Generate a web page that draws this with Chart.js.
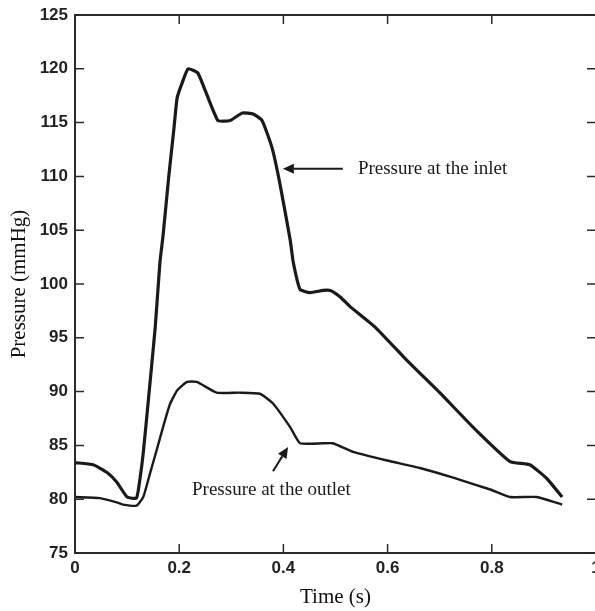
<!DOCTYPE html>
<html>
<head>
<meta charset="utf-8">
<script src="https://cdn.jsdelivr.net/npm/chart.js@4.4.1/dist/chart.umd.min.js"></script>
<style>
  html, body { margin: 0; padding: 0; background: #fff; overflow: hidden; }
  .chart-container { width: 600px; height: 611px; position: relative; }
</style>
</head>
<body>
<div class="chart-container">
  <canvas id="pressureChart"></canvas>
</div>
<script>
// data
const inletTime = [0, 0.035, 0.061, 0.08, 0.10, 0.118, 0.125, 0.131, 0.141, 0.154, 0.163, 0.169, 0.18, 0.19, 0.196, 0.205, 0.217, 0.236, 0.274, 0.298, 0.321, 0.342, 0.359, 0.378, 0.393, 0.413, 0.419, 0.432, 0.451, 0.476, 0.49, 0.509, 0.528, 0.576, 0.637, 0.70, 0.772, 0.835, 0.873, 0.906, 0.935];
const inletPressure = [83.4, 83.2, 82.5, 81.6, 80.2, 80.1, 82.0, 84.3, 89.3, 96.0, 102.0, 104.5, 110.0, 114.5, 117.3, 118.6, 120.0, 119.6, 115.2, 115.2, 115.9, 115.8, 115.2, 112.7, 109.4, 104.1, 102.0, 99.5, 99.2, 99.4, 99.4, 98.8, 97.9, 96.0, 92.9, 89.9, 86.3, 83.5, 83.2, 81.9, 80.2];

const outletTime = [0, 0.048, 0.08, 0.092, 0.118, 0.131, 0.144, 0.157, 0.169, 0.182, 0.196, 0.215, 0.234, 0.272, 0.317, 0.355, 0.38, 0.413, 0.432, 0.476, 0.495, 0.534, 0.599, 0.662, 0.726, 0.797, 0.835, 0.886, 0.935];
const outletPressure = [80.2, 80.1, 79.7, 79.5, 79.4, 80.2, 82.4, 84.6, 86.7, 88.8, 90.1, 90.9, 90.9, 89.9, 89.9, 89.8, 88.9, 86.7, 85.2, 85.2, 85.2, 84.4, 83.6, 82.9, 82.0, 80.9, 80.2, 80.2, 79.5];

const xTicks = [0, 0.2, 0.4, 0.6, 0.8, 1];
const yTicks = [75, 80, 85, 90, 95, 100, 105, 110, 115, 120, 125];

// annotations, in data units
const notes = [
  { text: "Pressure at the inlet", x: 0.543, y: 110.65, tail: [0.514, 110.7], tip: [0.399, 110.7] },
  { text: "Pressure at the outlet", x: 0.2246, y: 80.85, tail: [0.380, 82.6], tip: [0.409, 84.85] }
];

const toPoints = (xs, ys) => xs.map((x, i) => ({ x: x, y: ys[i] }));

const frameAndNotes = {
  id: "frameAndNotes",
  afterDraw(chart) {
    const { ctx, chartArea: a, scales } = chart;
    const xs = scales.x, ys = scales.y;
    ctx.save();
    ctx.strokeStyle = "#2a2a2a";
    ctx.lineWidth = 2;
    ctx.strokeRect(a.left, a.top, a.right - a.left, a.bottom - a.top);

    // inward ticks on all sides
    const tl = 9;
    ctx.lineWidth = 1.5;
    ctx.beginPath();
    xTicks.forEach((v) => {
      const px = xs.getPixelForValue(v);
      ctx.moveTo(px, a.bottom); ctx.lineTo(px, a.bottom - tl);
      ctx.moveTo(px, a.top); ctx.lineTo(px, a.top + tl);
    });
    yTicks.forEach((v) => {
      const py = ys.getPixelForValue(v);
      ctx.moveTo(a.left, py); ctx.lineTo(a.left + tl, py);
      ctx.moveTo(a.right, py); ctx.lineTo(a.right - tl, py);
    });
    ctx.stroke();

    // annotation arrows and labels
    ctx.fillStyle = "#1a1a1a";
    ctx.strokeStyle = "#1a1a1a";
    ctx.font = '19px "Liberation Serif"';
    ctx.textBaseline = "middle";
    ctx.textAlign = "left";
    notes.forEach((n) => {
      ctx.fillText(n.text, xs.getPixelForValue(n.x), ys.getPixelForValue(n.y));
      const x0 = xs.getPixelForValue(n.tail[0]), y0 = ys.getPixelForValue(n.tail[1]);
      const x1 = xs.getPixelForValue(n.tip[0]), y1 = ys.getPixelForValue(n.tip[1]);
      const ang = Math.atan2(y1 - y0, x1 - x0);
      const hl = 11, hw = 5;
      ctx.lineWidth = 2;
      ctx.beginPath();
      ctx.moveTo(x0, y0);
      ctx.lineTo(x1 - hl * Math.cos(ang), y1 - hl * Math.sin(ang));
      ctx.stroke();
      ctx.beginPath();
      ctx.moveTo(x1, y1);
      ctx.lineTo(x1 - hl * Math.cos(ang) + hw * Math.sin(ang), y1 - hl * Math.sin(ang) - hw * Math.cos(ang));
      ctx.lineTo(x1 - hl * Math.cos(ang) - hw * Math.sin(ang), y1 - hl * Math.sin(ang) + hw * Math.cos(ang));
      ctx.closePath();
      ctx.fill();
    });
    ctx.restore();
  }
};

new Chart(document.getElementById("pressureChart").getContext("2d"), {
  type: "scatter",
  data: {
    datasets: [
      {
        label: "Pressure at the inlet",
        data: toPoints(inletTime, inletPressure),
        showLine: true,
        borderColor: "#1a1a1a",
        borderWidth: 3.2,
        pointRadius: 0,
        tension: 0.15
      },
      {
        label: "Pressure at the outlet",
        data: toPoints(outletTime, outletPressure),
        showLine: true,
        borderColor: "#1a1a1a",
        borderWidth: 2.4,
        pointRadius: 0,
        tension: 0.15
      }
    ]
  },
  options: {
    responsive: true,
    maintainAspectRatio: false,
    animation: false,
    layout: { padding: { top: 15, right: 4, left: 0, bottom: 0 } },
    plugins: {
      legend: { display: false },
      tooltip: { enabled: false }
    },
    scales: {
      x: {
        type: "linear",
        min: 0,
        max: 1,
        afterBuildTicks: (scale) => { scale.ticks = xTicks.map((v) => ({ value: v })); },
        afterFit: (scale) => {
          scale.height = 58;
          scale.paddingLeft = 0;
          scale.paddingRight = 0;
        },
        grid: { display: false, drawTicks: false },
        border: { display: false },
        ticks: {
          padding: 5,
          color: "#222",
          font: { family: "Liberation Sans", size: 17, weight: "bold" },
          maxRotation: 0,
          callback: (v) => String(v)
        },
        title: {
          display: true,
          text: "Time (s)",
          color: "#111",
          font: { family: "Liberation Serif", size: 21 },
          padding: { top: 0, bottom: 1 }
        }
      },
      y: {
        type: "linear",
        min: 75,
        max: 125,
        afterBuildTicks: (scale) => { scale.ticks = yTicks.map((v) => ({ value: v })); },
        afterFit: (scale) => {
          scale.width = 75;
          scale.paddingTop = 0;
          scale.paddingBottom = 0;
        },
        grid: { display: false, drawTicks: false },
        border: { display: false },
        ticks: {
          padding: 7,
          color: "#222",
          font: { family: "Liberation Sans", size: 17, weight: "bold" },
          callback: (v) => String(v)
        },
        title: {
          display: true,
          text: "Pressure (mmHg)",
          color: "#111",
          font: { family: "Liberation Serif", size: 21 },
          padding: { top: 7, bottom: 0 }
        }
      }
    }
  },
  plugins: [frameAndNotes]
});
</script>
</body>
</html>
